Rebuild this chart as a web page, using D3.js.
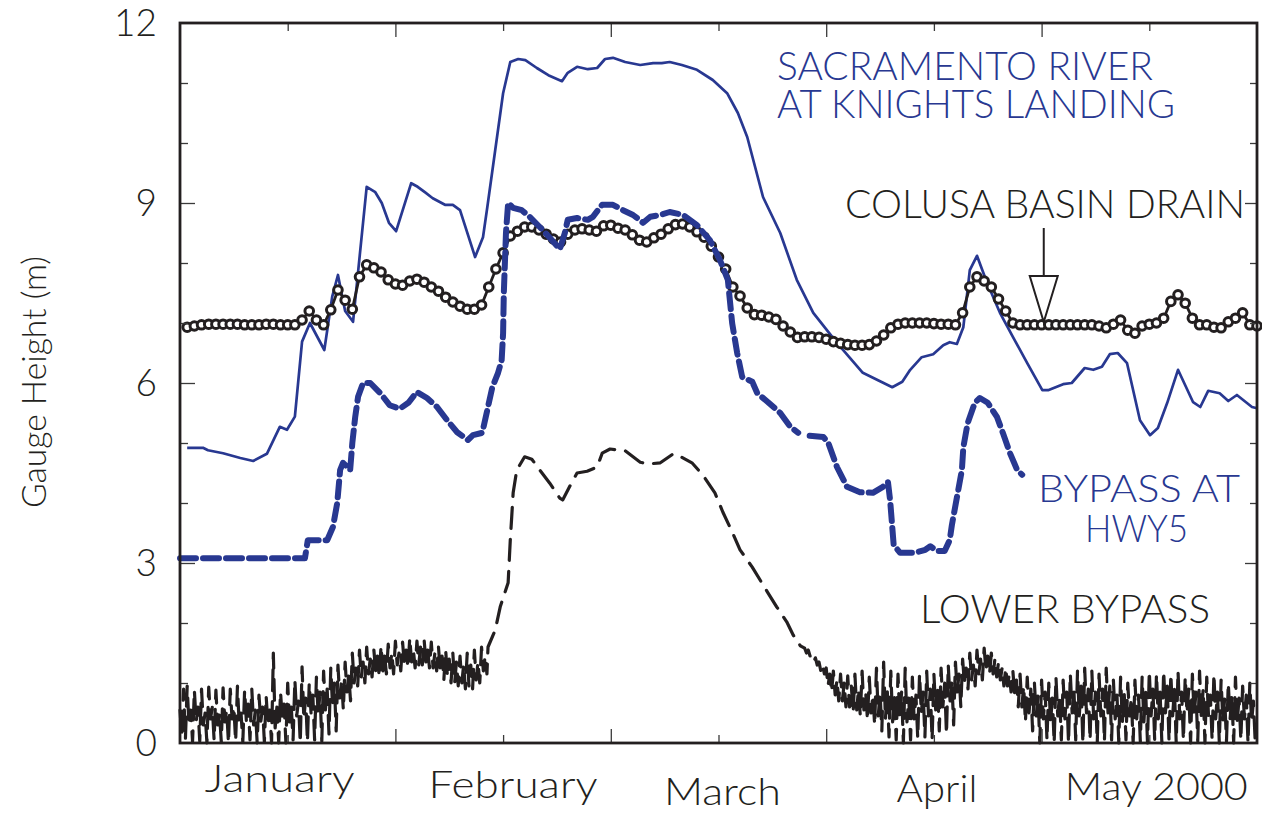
<!DOCTYPE html>
<html>
<head>
<meta charset="utf-8">
<script src="https://cdn.jsdelivr.net/npm/d3@7"></script>
<style>
  html, body { margin: 0; padding: 0; background: #fff; }
  svg { display: block; }
  text { font-family: Lato, "Open Sans", "DejaVu Sans", sans-serif; font-weight: 300; }
</style>
</head>
<body>
<svg id="chart" width="1262" height="814"></svg>
<script>
// ---------------- DATA ----------------
// x unit: day since 31 Dec 1999 (0..150), y unit: gauge height in metres
const monthLabels = ["January", "February", "March", "April", "May 2000"];
const yTickValues = [0, 3, 6, 9, 12];

// Sacramento River at Knights Landing (thin blue) : [day, metres]
const sacramento = [
  [1.0,4.92],[3.2,4.92],[3.9,4.88],[6.0,4.83],[8.4,4.75],[10.2,4.70],[12.1,4.82],[13.9,5.27],
  [14.9,5.22],[16.0,5.44],[17.0,6.69],[18.1,7.00],[20.1,6.55],[21.2,7.44],[22.0,7.80],[23.0,7.20],
  [24.1,7.02],[26.0,9.27],[27.2,9.18],[28.1,9.00],[29.1,8.67],[30.1,8.53],[32.2,9.33],[33.1,9.27],
  [34.1,9.18],[35.2,9.08],[36.9,8.97],[38.0,8.97],[39.0,8.88],[41.1,8.10],[42.2,8.43],[42.8,8.93],
  [43.9,9.88],[45.0,10.83],[46.0,11.35],[47.1,11.40],[48.1,11.38],[49.7,11.25],[51.3,11.13],[53.2,11.03],
  [54.0,11.17],[55.3,11.27],[56.8,11.23],[58.1,11.25],[59.2,11.40],[60.3,11.42],[62.0,11.35],[64.1,11.30],
  [65.9,11.33],[67.1,11.33],[68.2,11.35],[69.9,11.30],[72.0,11.22],[74.2,11.05],[76.2,10.83],[77.7,10.50],
  [79.0,10.10],[81.2,9.10],[83.6,8.50],[85.9,7.72],[88.2,7.17],[91.5,6.67],[95.1,6.17],[99.2,5.93],
  [100.6,6.02],[101.7,6.22],[103.3,6.43],[104.9,6.48],[106.3,6.63],[107.2,6.68],[108.2,6.65],[109.1,6.93],
  [110.0,7.88],[111.0,8.12],[112.4,7.67],[114.2,7.17],[116.0,6.77],[118.0,6.33],[120.1,5.88],[120.9,5.88],
  [123.0,5.98],[124.2,6.00],[126.0,6.25],[127.2,6.22],[128.4,6.27],[129.5,6.48],[130.6,6.50],[131.9,6.33],
  [133.7,5.38],[135.1,5.13],[136.2,5.25],[137.5,5.67],[139.0,6.22],[141.1,5.68],[142.1,5.60],[143.2,5.87],
  [144.8,5.83],[146.0,5.70],[147.2,5.80],[149.3,5.60],[150.0,5.58]
];

// Colusa Basin Drain (black line with open circles) : daily values, day 1..150
const colusaStartDay = 1;
const colusa = [
  6.93,6.95,6.97,6.98,6.98,6.98,6.98,6.98,6.97,6.97,
  6.97,6.98,6.98,6.97,6.97,6.97,7.05,7.20,7.05,6.97,
  7.22,7.55,7.38,7.23,7.77,7.97,7.92,7.85,7.72,7.65,
  7.63,7.70,7.73,7.68,7.60,7.53,7.43,7.35,7.28,7.23,
  7.23,7.30,7.60,7.90,8.17,8.45,8.53,8.60,8.60,8.55,
  8.48,8.40,8.35,8.48,8.55,8.57,8.55,8.53,8.62,8.63,
  8.58,8.55,8.47,8.38,8.35,8.42,8.48,8.57,8.64,8.65,
  8.60,8.52,8.43,8.28,8.10,7.90,7.60,7.45,7.25,7.14,
  7.13,7.10,7.06,6.95,6.85,6.76,6.77,6.77,6.76,6.73,
  6.69,6.66,6.64,6.63,6.63,6.64,6.70,6.80,6.92,6.98,
  7.00,7.00,7.00,7.00,6.99,6.98,6.98,6.97,7.17,7.60,
  7.77,7.70,7.60,7.40,7.20,7.00,6.97,6.97,6.97,6.97,
  6.97,6.97,6.97,6.97,6.97,6.97,6.97,6.95,6.92,6.98,
  7.05,6.88,6.83,6.95,6.98,7.00,7.08,7.36,7.47,7.33,
  7.08,6.97,6.97,6.93,6.92,7.02,7.08,7.17,6.97,6.95
];

// Bypass at HWY5 (thick blue) : [day, metres]; null = gap in record
const bypassHwy5 = [
  [0,3.08],[17.4,3.08],[17.8,3.38],[20.5,3.38],[21.3,3.60],[21.9,4.00],[22.3,4.55],[22.7,4.67],
  [23.7,4.55],[24.0,5.00],[24.4,5.43],[24.8,5.77],[25.5,6.00],[26.5,6.00],[27.9,5.83],[29.2,5.63],
  [30.6,5.57],[31.8,5.67],[33.0,5.85],[34.4,5.75],[35.8,5.60],[37.2,5.38],[38.6,5.18],[40.1,5.05],
  [40.8,5.13],[42.1,5.17],[42.8,5.55],[43.5,5.93],[44.3,6.17],[44.8,6.38],[45.0,6.83],[45.1,7.50],
  [45.4,8.50],[45.7,9.00],[46.4,8.92],[47.6,8.88],[48.7,8.77],[50.1,8.60],[51.5,8.42],[52.9,8.23],
  [53.6,8.50],[54.0,8.72],[55.3,8.75],[56.8,8.72],[57.5,8.77],[58.8,8.97],[60.3,8.97],[61.7,8.88],
  [63.1,8.80],[64.5,8.67],[65.5,8.77],[66.9,8.80],[68.2,8.85],[70.1,8.80],[72.0,8.63],[73.8,8.38],
  [75.2,8.05],[76.3,7.72],[76.9,7.00],[77.6,6.50],[78.3,6.10],[79.7,6.02],[80.4,5.83],[81.9,5.68],
  [83.6,5.50],[85.0,5.27],[86.1,5.17],null,[87.7,5.12],[89.6,5.10],[90.3,5.00],[91.5,4.60],
  [92.9,4.27],[94.7,4.18],[96.5,4.17],[97.9,4.27],[98.6,4.35],[98.9,4.05],[99.4,3.30],[100.3,3.17],
  [102.4,3.17],[103.8,3.22],[104.5,3.28],[105.4,3.20],[106.5,3.20],[107.2,3.38],[107.5,3.63],[108.9,4.55],
  [109.1,4.93],[109.7,5.33],[110.7,5.67],[111.4,5.75],[112.5,5.67],[113.8,5.43],[114.6,5.17],[115.6,4.83],
  [116.6,4.55],[117.3,4.47]
];

// Lower Bypass (black, tidal). Four readings per day [higher high, higher low, lower high, lower low]
const lowerTidalJanStart = 0;
const lowerTidalJan = [
  [0.55,0.10,0.90,0.05],[0.95,0.30,0.55,0.02],[0.88,0.35,0.60,0.03],[0.90,0.30,0.50,0.00],
  [0.93,0.40,0.60,0.05],[0.88,0.30,0.50,0.02],[0.92,0.35,0.55,0.00],[0.90,0.40,0.60,0.03],
  [0.95,0.30,0.50,0.02],[0.88,0.35,0.65,0.05],[0.90,0.30,0.55,0.00],[0.80,0.35,0.60,0.02],
  [0.78,0.30,0.55,0.00],[1.50,0.25,0.60,0.00],[0.85,0.40,0.65,0.00],[1.00,0.35,0.60,0.05],
  [1.05,0.45,0.70,0.00],[1.27,0.40,0.75,0.02],[1.00,0.50,0.80,0.05],[1.10,0.45,0.85,0.03],
  [1.20,0.55,0.90,0.15],[1.25,0.60,1.00,0.20],[1.30,0.75,1.05,0.55],[1.35,0.85,1.15,0.70],
  [1.50,1.00,1.25,0.95],[1.55,1.10,1.35,1.00],[1.60,1.15,1.40,1.10],[1.55,1.20,1.45,1.10],
  [1.62,1.20,1.45,1.15],[1.65,1.25,1.50,1.15],[1.70,1.30,1.50,1.20],[1.68,1.30,1.55,1.25],
  [1.75,1.35,1.55,1.25],[1.70,1.30,1.60,1.30],[1.72,1.35,1.55,1.25],[1.68,1.25,1.50,1.20],
  [1.60,1.20,1.45,1.05],[1.55,1.10,1.40,1.00],[1.50,1.00,1.35,0.95],[1.45,1.00,1.30,0.90],
  [1.50,0.95,1.30,0.90],[1.55,1.05,1.35,1.00],[1.60,1.20,1.45,1.15]
];
// Flood period (record smoothed, shown dashed) : [day, metres]
const lowerFlood = [
  [42.9,1.60],[43.9,1.88],[44.6,2.27],[45.7,2.67],[46.0,3.38],[46.2,3.77],[46.4,4.17],[46.9,4.55],
  [48.0,4.77],[49.0,4.73],[50.1,4.55],[51.5,4.33],[52.9,4.08],[53.3,4.05],[54.6,4.35],[55.3,4.50],
  [56.7,4.53],[58.1,4.60],[58.8,4.83],[59.9,4.90],[62.0,4.87],[64.1,4.68],[65.2,4.65],[66.9,4.67],
  [68.7,4.82],[69.6,4.78],[71.3,4.67],[72.8,4.47],[74.5,4.17],[75.6,3.85],[76.9,3.52],[78.0,3.22],
  [79.7,2.93],[81.8,2.52],[83.1,2.27],[84.5,2.02],[85.4,1.80],[86.4,1.62]
];
const lowerTidalMarStart = 87;
const lowerTidalMar = [
  [1.58,1.50,1.55,1.45],[1.45,1.35,1.42,1.30],[1.35,1.20,1.30,1.15],[1.25,0.95,1.15,0.85],
  [1.20,0.80,1.05,0.70],[1.15,0.70,1.00,0.60],[1.12,0.60,0.95,0.50],[1.15,0.55,0.90,0.45],
  [1.20,0.55,0.85,0.38],[1.10,0.50,0.80,0.30],[1.25,0.45,0.85,0.20],[1.35,0.40,0.90,0.10],
  [1.20,0.35,0.80,0.05],[1.15,0.40,0.85,0.00],[1.25,0.35,0.75,0.05],[1.10,0.40,0.80,0.08],
  [1.15,0.50,0.85,0.10],[1.20,0.45,0.90,0.05],[1.15,0.55,0.95,0.20],[1.25,0.60,1.00,0.15],
  [1.30,0.70,1.05,0.30],[1.35,0.85,1.15,0.60],[1.40,1.00,1.25,0.90],[1.50,1.05,1.30,0.95],
  [1.55,1.15,1.40,1.05],[1.58,1.20,1.45,1.15],[1.50,1.15,1.40,1.10],[1.35,1.05,1.25,0.95],
  [1.25,0.95,1.15,0.85],[1.20,0.80,1.05,0.60],[1.15,0.60,0.95,0.35],[1.10,0.50,0.90,0.20],
  [1.00,0.45,0.80,0.00],[1.05,0.40,0.85,0.05],[1.00,0.35,0.75,0.00],[1.10,0.45,0.80,0.05],
  [1.05,0.40,0.85,0.00],[1.15,0.50,0.90,0.05],[1.20,0.45,0.95,0.00],[1.25,0.50,0.90,0.05],
  [1.20,0.40,0.85,0.00],[1.15,0.45,0.90,0.03],[1.25,0.50,0.95,0.05],[1.05,0.40,0.80,0.00],
  [1.10,0.35,0.85,0.05],[1.00,0.45,0.75,0.00],[1.05,0.40,0.80,0.02],[1.10,0.35,0.85,0.00],
  [1.20,0.45,0.90,0.05],[1.15,0.40,0.85,0.00],[1.20,0.50,0.95,0.03],[1.15,0.45,0.90,0.00],
  [1.20,0.40,0.85,0.05],[1.10,0.50,0.90,0.00],[1.15,0.45,0.85,0.03],[1.20,0.40,0.90,0.00],
  [1.10,0.45,0.80,0.05],[1.15,0.40,0.85,0.00],[1.05,0.35,0.75,0.03],[1.00,0.40,0.80,0.00],
  [1.10,0.35,0.75,0.05],[0.95,0.40,0.80,0.00],[1.00,0.35,0.70,0.02]
];

// ---------------- CHART ----------------
const BLUE = "#283891";
const BLACK = "#231f20";
const svg = d3.select("#chart");

const x = d3.scaleLinear().domain([0, 150]).range([180, 1257]);
const y = d3.scaleLinear().domain([0, 12]).range([743, 23]);

// expand the tidal readings (4 per day) into time-ordered points
function tidal(rows, startDay) {
  const pts = [];
  rows.forEach((q, i) => q.forEach((v, k) => pts.push([startDay + i + k / 4, v])));
  return pts;
}
const lowerSeries = tidal(lowerTidalJan, lowerTidalJanStart)
  .concat(lowerFlood)
  .concat(tidal(lowerTidalMar, lowerTidalMarStart));

const line = d3.line()
  .defined(d => d !== null)
  .x(d => x(d[0]))
  .y(d => y(d[1]));

const plot = svg.append("g");

// Lower bypass
plot.append("path")
  .datum(lowerSeries)
  .attr("d", line)
  .attr("fill", "none")
  .attr("stroke", BLACK)
  .attr("stroke-width", 3.2)
  .attr("stroke-linecap", "round")
  .attr("stroke-linejoin", "round")
  .attr("stroke-dasharray", "21 11");

// Sacramento river
plot.append("path")
  .datum(sacramento)
  .attr("d", line)
  .attr("fill", "none")
  .attr("stroke", BLUE)
  .attr("stroke-width", 2.7)
  .attr("stroke-linejoin", "round");

// Colusa basin drain
const colusaPts = colusa.map((v, i) => [colusaStartDay + i, v]);
plot.append("path")
  .datum(colusaPts)
  .attr("d", line)
  .attr("fill", "none")
  .attr("stroke", BLACK)
  .attr("stroke-width", 2.8);
plot.append("g").selectAll("circle")
  .data(colusaPts)
  .join("circle")
  .attr("cx", d => x(d[0]))
  .attr("cy", d => y(d[1]))
  .attr("r", 4.3)
  .attr("fill", "#fff")
  .attr("stroke", BLACK)
  .attr("stroke-width", 3);

// Bypass at HWY5
plot.append("path")
  .datum(bypassHwy5)
  .attr("d", line)
  .attr("fill", "none")
  .attr("stroke", BLUE)
  .attr("stroke-width", 6)
  .attr("stroke-linecap", "round")
  .attr("stroke-linejoin", "round")
  .attr("stroke-dasharray", "16 7");

// ---------------- AXES ----------------
const xMajor = d3.range(30, 150, 30);
const xMinor = d3.range(15, 150, 30);
const yMajor = [3, 6, 9];
const yMinor = [1, 2, 4, 5, 7, 8, 10, 11];

function axisG(axis, tx, ty) {
  const g = svg.append("g").attr("transform", `translate(${tx},${ty})`).call(axis);
  g.select(".domain").remove();
  g.selectAll(".tick line").attr("stroke", "#3a3a3a").attr("stroke-width", 1.3);
  g.selectAll(".tick text").remove();
  return g;
}
axisG(d3.axisBottom(x).tickValues(xMajor).tickSize(-14).tickFormat(""), 0, y(0));
axisG(d3.axisBottom(x).tickValues(xMinor).tickSize(-8).tickFormat(""), 0, y(0));
axisG(d3.axisTop(x).tickValues(xMajor).tickSize(-14).tickFormat(""), 0, y(12));
axisG(d3.axisTop(x).tickValues(xMinor).tickSize(-8).tickFormat(""), 0, y(12));
axisG(d3.axisLeft(y).tickValues(yMajor).tickSize(-15).tickFormat(""), x(0), 0);
axisG(d3.axisLeft(y).tickValues(yMinor).tickSize(-8).tickFormat(""), x(0), 0);
axisG(d3.axisRight(y).tickValues(yMajor).tickSize(-12).tickFormat(""), x(150), 0);
axisG(d3.axisRight(y).tickValues(yMinor).tickSize(-7).tickFormat(""), x(150), 0);

// frame
svg.append("rect")
  .attr("x", x(0)).attr("y", y(12))
  .attr("width", x(150) - x(0)).attr("height", y(0) - y(12))
  .attr("fill", "none").attr("stroke", BLACK).attr("stroke-width", 2.8);

// y tick labels
svg.append("g").selectAll("text")
  .data(yTickValues)
  .join("text")
  .attr("x", 157)
  .attr("y", d => y(d) + 13)
  .attr("text-anchor", "end")
  .attr("font-size", 37)
  .attr("fill", BLACK)
  .text(d => d);

// month labels (centred between month ticks, as hand-placed in the original)
const monthNudgeX = [-8, 10, 4, 3, 7];
const monthBaseline = [792, 798, 805, 802, 800];
const monthWidth = [150, 169, 117, 81, 183];
svg.append("g").selectAll("text")
  .data(monthLabels)
  .join("text")
  .attr("x", (d, i) => x(15 + 30 * i) + monthNudgeX[i] - monthWidth[i] / 2)
  .attr("y", (d, i) => monthBaseline[i])
  .attr("textLength", (d, i) => monthWidth[i])
  .attr("lengthAdjust", "spacingAndGlyphs")
  .attr("font-size", 37)
  .attr("fill", BLACK)
  .text(d => d);

// y axis title
svg.append("text")
  .attr("transform", "translate(46,382) rotate(-90)")
  .attr("text-anchor", "middle")
  .attr("textLength", 252)
  .attr("lengthAdjust", "spacingAndGlyphs")
  .attr("font-size", 33)
  .attr("fill", BLACK)
  .text("Gauge Height (m)");

// series annotations
const notes = [
  { t: "SACRAMENTO RIVER", x: 777, y: 80, w: 376, c: BLUE, s: 40 },
  { t: "AT KNIGHTS LANDING", x: 777, y: 118, w: 398, c: BLUE, s: 40 },
  { t: "COLUSA BASIN DRAIN", x: 845, y: 218, w: 400, c: BLACK, s: 40 },
  { t: "BYPASS AT", x: 1038, y: 502, w: 202, c: BLUE, s: 37 },
  { t: "HWY5", x: 1085, y: 542, w: 103, c: BLUE, s: 37 },
  { t: "LOWER BYPASS", x: 920, y: 623, w: 290, c: BLACK, s: 39 }
];
svg.append("g").selectAll("text")
  .data(notes)
  .join("text")
  .attr("x", d => d.x)
  .attr("y", d => d.y)
  .attr("textLength", d => d.w)
  .attr("lengthAdjust", "spacingAndGlyphs")
  .attr("font-size", d => d.s)
  .attr("fill", d => d.c)
  .text(d => d.t);

// arrow pointing at Colusa Basin Drain
const ax = x(120.3);
svg.append("line")
  .attr("x1", ax).attr("x2", ax).attr("y1", 228).attr("y2", 276)
  .attr("stroke", BLACK).attr("stroke-width", 2);
svg.append("path")
  .attr("d", `M${ax - 14},276 L${ax + 14},276 L${ax},${y(7.0) - 1} Z`)
  .attr("fill", "#fff").attr("stroke", BLACK).attr("stroke-width", 2)
  .attr("stroke-linejoin", "miter");
</script>
</body>
</html>
